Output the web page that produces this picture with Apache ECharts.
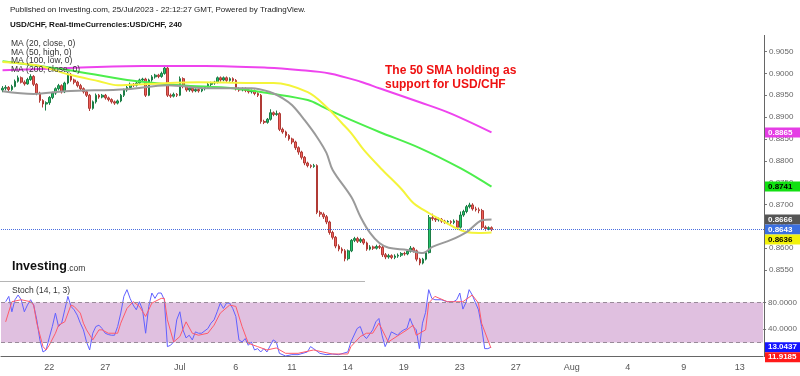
<!DOCTYPE html>
<html lang="en">
<head>
<meta charset="UTF-8">
<title>USD/CHF 240</title>
<script src="https://cdn.jsdelivr.net/npm/echarts@6/dist/echarts.min.js"></script>
<style>
    html, body { margin: 0; padding: 0; background: #fff; overflow: hidden; }
    #chart { width: 800px; height: 376px; }
</style>
</head>
<body>
<div id="chart"></div>
<script>
    // day keys that carry a label on the time axis, and what they show
    var tickDays = ['06-22', '06-27', '07-03', '07-06', '07-11', '07-14', '07-19', '07-24', '07-27', '08-01', '08-04', '08-09', '08-14'];
    var tickLabels = ['22', '27', 'Jul', '6', '11', '14', '19', '23', '27', 'Aug', '4', '9', '13'];
    var priceTicks = [0.855, 0.86, 0.865, 0.87, 0.875, 0.88, 0.885, 0.89, 0.895, 0.9, 0.905];
    var stochTicks = [40, 80];

    // 4h candles: [open, close, low, high]
    var ohlc = [
        [.8962,.8966,.8957,.8971],[.8966,.8968,.8961,.8973],[.8968,.8963,.8959,.8971],[.8963,.8970,.8960,.8974],
        [.8970,.8982,.8968,.8986],[.8982,.8990,.8979,.8995],[.8990,.8980,.8977,.8993],[.8980,.8976,.8972,.8984],
        [.8976,.8986,.8974,.8990],[.8986,.8993,.8983,.8998],[.8993,.8975,.8971,.8996],[.8975,.8955,.8950,.8978],
        [.8955,.8938,.8933,.8958],[.8938,.8930,.8922,.8941],[.8930,.8933,.8915,.8936],[.8933,.8945,.8928,.8948],
        [.8945,.8955,.8941,.8958],[.8955,.8965,.8951,.8968],[.8965,.8972,.8961,.8976],[.8972,.8958,.8954,.8975],
        [.8958,.8978,.8955,.8981],[.8978,.8998,.8975,.9004],[.8998,.8985,.8981,.9001],[.8985,.8980,.8975,.8988],
        [.8980,.8972,.8968,.8983],[.8972,.8965,.8960,.8976],[.8965,.8958,.8954,.8968],[.8958,.8950,.8946,.8961],
        [.8950,.8920,.8914,.8953],[.8920,.8935,.8917,.8938],[.8935,.8950,.8931,.8954],[.8950,.8946,.8942,.8953],
        [.8946,.8950,.8943,.8953],[.8950,.8944,.8940,.8953],[.8944,.8940,.8936,.8947],[.8940,.8935,.8931,.8943],
        [.8935,.8932,.8928,.8938],[.8932,.8937,.8929,.8940],[.8937,.8950,.8934,.8953],[.8950,.8962,.8946,.8965],
        [.8962,.8968,.8958,.8972],[.8968,.8975,.8965,.8979],[.8975,.8973,.8969,.8978],[.8973,.8978,.8970,.8981],
        [.8978,.8985,.8975,.8988],[.8985,.8987,.8981,.8990],[.8987,.8950,.8946,.8990],[.8950,.8985,.8948,.8988],
        [.8985,.8992,.8981,.8996],[.8992,.8996,.8988,.8999],[.8996,.8993,.8989,.8999],[.8993,.9000,.8990,.9004],
        [.9000,.9012,.8997,.9018],[.9012,.8950,.8946,.9015],[.8950,.8948,.8944,.8954],[.8948,.8952,.8945,.8956],
        [.8952,.8950,.8946,.8955],[.8950,.8988,.8948,.8993],[.8988,.8970,.8966,.8991],[.8970,.8962,.8958,.8973],
        [.8962,.8966,.8958,.8969],[.8966,.8960,.8956,.8968],[.8960,.8963,.8957,.8966],[.8963,.8960,.8956,.8966],
        [.8960,.8965,.8957,.8968],[.8965,.8968,.8961,.8971],[.8968,.8975,.8965,.8978],[.8975,.8978,.8971,.8981],
        [.8978,.8980,.8974,.8983],[.8980,.8990,.8977,.8993],[.8990,.8985,.8981,.8993],[.8985,.8990,.8982,.8993],
        [.8990,.8984,.8980,.8993],[.8984,.8988,.8981,.8991],[.8988,.8984,.8980,.8991],[.8984,.8965,.8961,.8987],
        [.8965,.8962,.8958,.8968],[.8962,.8965,.8959,.8968],[.8965,.8961,.8957,.8968],[.8961,.8958,.8954,.8964],
        [.8958,.8960,.8954,.8963],[.8960,.8954,.8950,.8963],[.8954,.8950,.8946,.8957],[.8950,.8890,.8885,.8953],
        [.8890,.8888,.8884,.8894],[.8888,.8895,.8885,.8898],[.8895,.8910,.8892,.8918],[.8910,.8906,.8902,.8913],
        [.8906,.8908,.8903,.8915],[.8908,.8872,.8868,.8911],[.8872,.8866,.8862,.8876],[.8866,.8858,.8853,.8869],
        [.8858,.8850,.8846,.8861],[.8850,.8843,.8838,.8853],[.8843,.8830,.8825,.8846],[.8830,.8820,.8814,.8833],
        [.8820,.8808,.8803,.8823],[.8808,.8795,.8790,.8811],[.8795,.8789,.8785,.8798],[.8789,.8787,.8783,.8792],
        [.8787,.8789,.8784,.8793],[.8789,.8682,.8678,.8792],[.8682,.8678,.8672,.8686],[.8678,.8672,.8667,.8682],
        [.8672,.8660,.8655,.8676],[.8660,.8636,.8631,.8663],[.8636,.8625,.8620,.8640],[.8625,.8605,.8600,.8628],
        [.8605,.8598,.8593,.8609],[.8598,.8594,.8588,.8602],[.8594,.8576,.8570,.8598],[.8576,.8594,.8572,.8597],
        [.8594,.8618,.8591,.8621],[.8618,.8622,.8614,.8626],[.8622,.8616,.8612,.8626],[.8616,.8620,.8612,.8624],
        [.8620,.8612,.8608,.8623],[.8612,.8598,.8594,.8615],[.8598,.8603,.8595,.8607],[.8603,.8600,.8596,.8606],
        [.8600,.8604,.8597,.8608],[.8604,.8602,.8598,.8608],[.8602,.8585,.8580,.8605],[.8585,.8580,.8575,.8589],
        [.8580,.8583,.8576,.8587],[.8583,.8579,.8575,.8586],[.8579,.8582,.8575,.8586],[.8582,.8584,.8578,.8588],
        [.8584,.8588,.8580,.8591],[.8588,.8587,.8583,.8592],[.8587,.8593,.8584,.8597],[.8593,.8600,.8590,.8605],
        [.8600,.8594,.8590,.8603],[.8594,.8575,.8570,.8597],[.8575,.8566,.8561,.8578],[.8566,.8575,.8563,.8578],
        [.8575,.8590,.8572,.8593],[.8590,.8670,.8588,.8676],[.8670,.8668,.8663,.8679],[.8668,.8665,.8660,.8672],
        [.8665,.8666,.8661,.8670],[.8666,.8662,.8658,.8669],[.8662,.8660,.8656,.8665],[.8660,.8661,.8655,.8664],
        [.8661,.8659,.8654,.8664],[.8659,.8662,.8655,.8666],[.8662,.8648,.8644,.8665],[.8648,.8676,.8645,.8684],
        [.8676,.8684,.8672,.8688],[.8684,.8695,.8680,.8699],[.8695,.8699,.8691,.8704],[.8699,.8690,.8686,.8703],
        [.8690,.8688,.8684,.8695],[.8688,.8686,.8680,.8693],[.8686,.8648,.8644,.8690],[.8648,.8645,.8640,.8652],
        [.8645,.8647,.8641,.8650],[.8647,.8643,.8639,.8650]
    ];

    // moving averages: [bar, value]
    var ma20 = [[0,.8959],[10,.8953],[20,.8959],[40,.8964],[53,.8973],[66,.8966],[80,.8966],[86,.8957],[90,.8943],
        [93,.8927],[97,.8893],[101,.8854],[104,.8818],[106,.8779],[112,.8717],[115,.8671],[118,.8635],[121,.8612],
        [124,.8601],[130,.8596],[135,.8589],[138,.8603],[144,.8619],[149,.8637],[154,.8664],[157,.8666]];
    var ma50 = [[0,.9026],[12,.9017],[21,.8998],[31,.8982],[37,.8973],[47,.8976],[63,.8980],[80,.8978],[87,.8978],
        [98,.8957],[104,.8923],[109,.8886],[112,.8863],[116,.8825],[122,.8779],[128,.8736],[132,.8703],[137,.8680],
        [141,.8664],[145,.8648],[149,.8637],[153,.8635],[157,.8636]];
    var ma100 = [[0,.9028],[21,.9008],[40,.8985],[57,.8973],[74,.8966],[86,.8954],[98,.8939],[103,.8923],[107,.8909],
        [112,.8893],[121,.8866],[134,.8829],[147,.8783],[157,.8741]];
    var ma200 = [[0,.9007],[20,.9012],[45,.9017],[65,.9017],[85,.9013],[95,.9008],[105,.9000],[115,.8981],
        [121,.8966],[134,.8934],[144,.8908],[157,.8865]];

    // Stoch (14, 1, 3)
    var stochK = [[1,81],[2,89],[3,66],[4,84],[5,91],[6,84],[7,66],[8,76],[9,84],[10,76],[11,54],[12,24],[13,6],[14,9],
        [15,27],[16,44],[17,64],[18,44],[19,49],[20,69],[21,89],[22,74],[23,69],[24,61],[25,49],[26,39],[27,21],[28,9],
        [29,34],[30,44],[31,46],[32,41],[33,34],[34,32],[35,31],[36,31],[37,44],[38,64],[39,89],[40,99],[41,86],[42,76],
        [43,69],[44,81],[45,69],[46,34],[47,74],[48,94],[49,86],[50,94],[51,94],[52,84],[53,14],[54,16],[55,21],[56,54],
        [57,66],[58,39],[59,27],[60,31],[61,24],[62,36],[63,34],[64,34],[66,41],[67,49],[68,54],[69,66],[70,79],[71,71],
        [72,79],[73,79],[74,71],[75,59],[76,24],[77,21],[78,26],[79,16],[80,21],[81,9],[82,11],[83,6],[84,11],[85,6],
        [87,24],[88,21],[89,4],[91,0],[93,2],[95,2],[98,6],[99,14],[100,11],[102,4],[104,2],[106,3],[108,2],[111,6],
        [112,21],[114,41],[115,44],[116,31],[117,26],[119,39],[120,51],[121,56],[122,31],[123,14],[124,24],[125,36],
        [127,31],[128,36],[129,39],[130,41],[131,56],[132,44],[133,39],[134,11],[135,49],[136,65],[137,99],[138,86],
        [139,84],[141,84],[143,81],[145,81],[146,84],[147,94],[148,70],[149,80],[150,99],[151,91],[152,80],[153,69],
        [154,44],[155,11],[156,11],[157,13.0437]];
    var stochD = [[1,51],[3,81],[6,84],[9,81],[10,76],[11,49],[13,14],[14,9],[15,16],[17,34],[18,46],[20,51],[22,76],
        [23,74],[25,64],[26,49],[27,39],[29,24],[31,39],[32,39],[34,34],[37,34],[38,49],[40,71],[42,81],[44,74],[46,59],
        [48,79],[51,86],[52,86],[53,54],[55,21],[57,29],[59,51],[61,34],[63,31],[66,34],[68,46],[70,64],[73,76],[75,74],
        [77,44],[79,19],[82,14],[85,9],[88,12],[91,4],[95,4],[100,9],[103,6],[106,3],[111,3],[112,14],[115,29],[117,34],
        [119,34],[121,49],[124,21],[127,30],[130,39],[132,46],[133,31],[136,39],[137,79],[139,89],[143,81],[146,81],
        [148,81],[151,91],[153,79],[154,49],[157,11.9185]];

    // last values shown in the coloured tags on the right
    var priceTags = [
        { value: 0.8865, bg: '#e53de5', fg: '#fff' },
        { value: 0.8741, bg: '#11e011', fg: '#000' },
        { value: 0.8666, bg: '#555555', fg: '#fff' },
        { value: 0.8643, bg: '#3b6fe0', fg: '#fff' },
        { value: 0.8636, bg: '#f2f20a', fg: '#000' }
    ];
    var stochTags = [
        { value: 13.0437, bg: '#1414ff', fg: '#fff' },
        { value: 11.9185, bg: '#ff1a1a', fg: '#fff' }
    ];
    var lastClose = 0.8643;

    // 4h bar slots, weekdays only, from Jun 19 (4th bar) to Aug 15
    var nBars = 245;
    var cats = [];
    var d = new Date(Date.UTC(2023, 5, 19));
    var startSlot = 3;
    while (cats.length < nBars) {
        var wd = d.getUTCDay();
        if (wd >= 1 && wd <= 5) {
            var key = String(d.getUTCMonth() + 1).padStart(2, '0') + '-' + String(d.getUTCDate()).padStart(2, '0');
            for (var b = startSlot; b < 6 && cats.length < nBars; b++) cats.push(key + ' ' + b);
            startSlot = 0;
        }
        d.setUTCDate(d.getUTCDate() + 1);
    }
    function isTick(idx, val) {
        var p = val.split(' ');
        return p[1] === '0' && tickDays.indexOf(p[0]) >= 0;
    }

    var FONT = 'Liberation Sans, Arial, sans-serif';
    var chart = echarts.init(document.getElementById('chart'));

    function maLine(name, data, color) {
        return {
            name: name, type: 'line', xAxisIndex: 0, yAxisIndex: 0, data: data,
            showSymbol: false, smooth: 0.35, silent: true,
            lineStyle: { color: color, width: 2 }, z: 3
        };
    }

    var baseGraphic = [
        { type: 'text', x: 10, y: 10, style: { text: 'Published on Investing.com, 25/Jul/2023 - 22:12:27 GMT, Powered by TradingView.', font: '8px ' + FONT, fill: '#222', verticalAlign: 'middle' } },
        { type: 'text', x: 10, y: 25, style: { text: 'USD/CHF, Real-timeCurrencies:USD/CHF, 240', font: 'bold 8px ' + FONT, fill: '#111', verticalAlign: 'middle' } },
        { type: 'text', x: 11, y: 44, style: { text: 'MA (20, close, 0)', font: '8.5px ' + FONT, fill: '#333', verticalAlign: 'middle' }, z: 10 },
        { type: 'text', x: 11, y: 52.5, style: { text: 'MA (50, high, 0)', font: '8.5px ' + FONT, fill: '#333', verticalAlign: 'middle' }, z: 10 },
        { type: 'text', x: 11, y: 61, style: { text: 'MA (100, low, 0)', font: '8.5px ' + FONT, fill: '#333', verticalAlign: 'middle' }, z: 10 },
        { type: 'text', x: 11, y: 69.5, style: { text: 'MA (200, close, 0)', font: '8.5px ' + FONT, fill: '#333', verticalAlign: 'middle' }, z: 10 },
        { type: 'text', x: 385, y: 71, style: { text: 'The 50 SMA holding as', font: 'bold 12px ' + FONT, fill: '#ee1111', verticalAlign: 'middle' }, z: 10 },
        { type: 'text', x: 385, y: 85, style: { text: 'support for USD/CHF', font: 'bold 12px ' + FONT, fill: '#ee1111', verticalAlign: 'middle' }, z: 10 },
        { type: 'text', x: 12, y: 267, style: { text: 'Investing', font: 'bold 12.5px ' + FONT, fill: '#111', verticalAlign: 'middle' }, z: 10 },
        { type: 'text', x: 67, y: 268.5, style: { text: '.com', font: '8.5px ' + FONT, fill: '#333', verticalAlign: 'middle' }, z: 10 },
        { type: 'line', shape: { x1: 0, y1: 281.5, x2: 365, y2: 281.5 }, style: { stroke: '#b5b5b5', lineWidth: 1 }, z: 10 },
        { type: 'text', x: 12, y: 291, style: { text: 'Stoch (14, 1, 3)', font: '8.5px ' + FONT, fill: '#333', verticalAlign: 'middle' }, z: 10 },
        { type: 'line', shape: { x1: 764.5, y1: 35, x2: 764.5, y2: 357 }, style: { stroke: '#666', lineWidth: 1 }, z: 10 }
    ];

    var option = {
        backgroundColor: '#fff',
        animation: false,
        textStyle: { fontFamily: FONT },
        grid: [
            { left: 1, right: 36, top: 38, height: 243 },
            { left: 1, right: 36, top: 289, height: 67 }
        ],
        xAxis: [
            { type: 'category', gridIndex: 0, data: cats, boundaryGap: true, show: false },
            {
                type: 'category', gridIndex: 1, data: cats, boundaryGap: true,
                axisLine: { lineStyle: { color: '#666' } },
                axisTick: { interval: isTick, alignWithLabel: true, length: 3, lineStyle: { color: '#777' } },
                axisLabel: {
                    interval: isTick, margin: 7, fontSize: 9, color: '#555',
                    formatter: function (val) { return tickLabels[tickDays.indexOf(val.split(' ')[0])]; }
                }
            }
        ],
        yAxis: [
            {
                type: 'value', gridIndex: 0, position: 'right', min: 0.8525, max: 0.9081, scale: true,
                splitLine: { show: false }, axisLine: { show: false },
                axisTick: { show: true, customValues: priceTicks, length: 3, lineStyle: { color: '#777' } },
                axisLabel: {
                    customValues: priceTicks, fontSize: 8, color: '#666', margin: 5,
                    formatter: function (v) { return v.toFixed(4); }
                }
            },
            {
                type: 'value', gridIndex: 1, position: 'right', min: 0, max: 100,
                splitLine: { show: false }, axisLine: { show: false },
                axisTick: { show: true, customValues: stochTicks, length: 3, lineStyle: { color: '#777' } },
                axisLabel: {
                    customValues: stochTicks, fontSize: 8, color: '#666', margin: 5,
                    formatter: function (v) { return v.toFixed(4); }
                }
            }
        ],
        series: [
            {
                type: 'candlestick', xAxisIndex: 0, yAxisIndex: 0, data: ohlc, barWidth: '72%', silent: true,
                itemStyle: { color: '#22c46a', color0: '#f0605a', borderColor: '#1b7d45', borderColor0: '#b03a35', borderWidth: 1 },
                z: 2
            },
            maLine('MA200', ma200, '#ee44ee'),
            maLine('MA100', ma100, '#4cee4c'),
            maLine('MA50', ma50, '#f4f43a'),
            {
                name: 'MA20', type: 'line', xAxisIndex: 0, yAxisIndex: 0, data: ma20,
                showSymbol: false, smooth: 0.35, silent: true,
                lineStyle: { color: '#9a9a9a', width: 2 }, z: 3,
                // current price line
                markLine: {
                    silent: true, symbol: 'none', precision: 4, label: { show: false },
                    lineStyle: { color: '#4a6fe0', type: 'dotted', width: 1 },
                    data: [{ yAxis: lastClose }]
                }
            },
            {
                name: '%K', type: 'line', xAxisIndex: 1, yAxisIndex: 1, data: stochK,
                showSymbol: false, silent: true, lineStyle: { color: '#6060ff', width: 1 }, z: 4,
                markArea: {
                    silent: true, itemStyle: { color: '#e0c0e0' },
                    data: [[{ yAxis: 20 }, { yAxis: 80 }]]
                },
                markLine: {
                    silent: true, symbol: 'none', label: { show: false },
                    lineStyle: { color: '#998a99', type: [4, 3], width: 1 },
                    data: [{ yAxis: 80 }, { yAxis: 20 }]
                }
            },
            {
                name: '%D', type: 'line', xAxisIndex: 1, yAxisIndex: 1, data: stochD,
                showSymbol: false, silent: true, lineStyle: { color: '#ff5a6a', width: 1 }, z: 4
            }
        ],
        graphic: baseGraphic
    };
    chart.setOption(option);

    // value tags on the price and stoch axes, pushed apart when they would overlap
    function makeTags(list, axisIndex) {
        var placed = list.map(function (t) {
            return { t: t, y: chart.convertToPixel({ yAxisIndex: axisIndex }, t.value) };
        });
        placed.sort(function (a, b) { return a.y - b.y; });
        for (var k = 1; k < placed.length; k++) {
            if (placed[k].y - placed[k - 1].y < 10) placed[k].y = placed[k - 1].y + 10;
        }
        var els = [];
        placed.forEach(function (p) {
            els.push({ type: 'rect', shape: { x: 765, y: p.y - 5, width: 35, height: 10 }, style: { fill: p.t.bg }, z: 20 });
            els.push({ type: 'text', x: 768, y: p.y, style: { text: p.t.value.toFixed(4), font: 'bold 8px ' + FONT, fill: p.t.fg, verticalAlign: 'middle' }, z: 21 });
        });
        return els;
    }
    option.graphic = baseGraphic.concat(makeTags(priceTags, 0), makeTags(stochTags, 1));
    chart.setOption(option, true);
</script>
</body>
</html>
